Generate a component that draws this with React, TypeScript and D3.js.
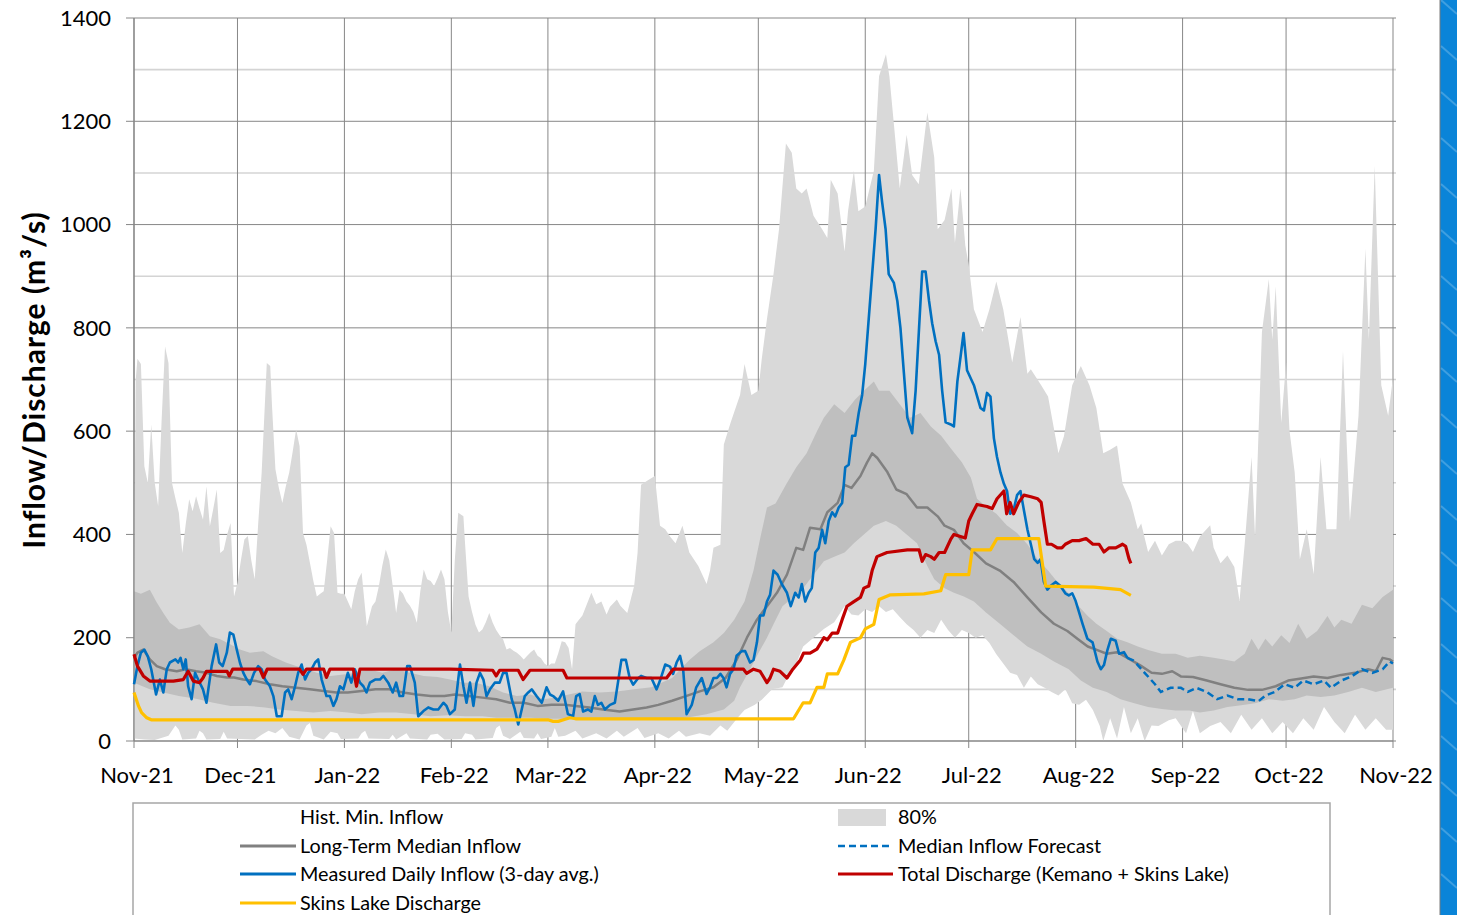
import React from 'react';
import * as d3 from 'd3';

type P = [number, number];

// day offsets from 2021-11-01, values in m3/s
const monthLabels = ['Nov-21', 'Dec-21', 'Jan-22', 'Feb-22', 'Mar-22', 'Apr-22', 'May-22', 'Jun-22', 'Jul-22', 'Aug-22', 'Sep-22', 'Oct-22', 'Nov-22'];
const yTicks = [0, 200, 400, 600, 800, 1000, 1200, 1400];
const yMinor = [100, 300, 500, 700, 900, 1100, 1300];

const histMax: P[] = [[0,300],[0.5,700],[1,740],[2,730],[3,532],[4,500],[5,613],[6,500],[7,455],[8,620],[9,764],[10,732],[11,500],[12,470],[13,442],[14,364],[15,420],[16,468],[17,445],[18,474],[19,450],[20,429],[21,493],[22,416],[23,450],[24,487],[25,364],[26,370],[27,400],[28,422],[29,280],[30,306],[31,350],[32,390],[33,397],[34,350],[35,313],[36,420],[37,519],[38.5,732],[39.5,726],[40,650],[41,526],[42,490],[43,461],[44,493],[45,520],[46,560],[47,603],[48,571],[49,403],[50,380],[51,345],[52,310],[53,280],[54,285],[55,290],[56,350],[57,416],[58,403],[59,287],[60,285],[61,285],[62,270],[63,255],[64,290],[65,313],[66,326],[67.5,222],[69,261],[70,270],[71,300],[72,340],[73,371],[74,350],[75,300],[76,248],[77,293],[78,285],[79,270],[80,262],[81,250],[82,229],[83,290],[84,332],[85,313],[86,310],[87,300],[88,315],[89,332],[90,313],[91,250],[92,210],[93,350],[94,442],[95.5,435],[96,380],[97,280],[98,250],[99,225],[100,210],[101,216],[102,230],[103,248],[104,229],[105,215],[106,205],[107,197],[108,177],[109,180],[110,175],[111,171],[112,165],[113,158],[114,165],[115,172],[116,177],[117,165],[118,160],[119,150],[120,145],[121,150],[122,150],[123,170],[124,193],[125,191],[126,180],[127,139],[128,226],[129,235],[130,243],[131,260],[132.6,287],[134,265],[135.5,270],[137,245],[138,260],[140,274],[141,262],[143,248],[145,300],[146,365],[147,496],[149,505],[151,513],[152.5,417],[154,410],[155.5,395],[157,383],[159,417],[161,365],[163.6,339],[166,304],[167,330],[168,374],[170,380],[171,574],[173,617],[175.7,670],[177,730],[179,670],[181,678],[182,740],[183.5,817],[185.4,904],[187,991],[189,1157],[190.7,1139],[192,1070],[193.6,1060],[195,1070],[197,1017],[199.5,991],[201,974],[202,1087],[204,1060],[206,948],[207,1026],[208.7,1104],[210,1026],[212,1035],[214.5,1104],[216,1287],[218,1330],[219,1287],[220.5,1180],[222,1070],[224,1174],[225.6,1096],[227.5,1078],[230,1217],[232,1130],[233,991],[235,1009],[237,1070],[238,965],[239.6,1070],[241,960],[242,922],[243.5,836],[246,792],[248,836],[250,890],[252,836],[254.6,733],[257,821],[259,711],[260,720],[263,689],[265,667],[268,557],[269.6,590],[272,689],[274.5,726],[277,689],[279,645],[281,557],[283,564],[285,572],[286.6,498],[289,462],[291,410],[292,421],[294,366],[296,388],[298,359],[300,381],[302,388],[304,388],[305.5,381],[307,366],[309,396],[312,418],[313,374],[315,344],[317,359],[319,337],[320.5,271],[322,381],[324,550],[325,396],[327,792],[329,894],[330,777],[331,880],[332.6,616],[334,733],[335,601],[336.5,520],[338,352],[340,410],[342,323],[344,550],[345.7,410],[348.6,410],[350.5,755],[352.5,425],[355,630],[357,953],[358,777],[359.7,1114],[361.6,689],[363.6,630],[365,704]];

const histMin: P[] = [[0,5],[3,3],[6,2],[10,10],[12,30],[13,22],[14,3],[18,5],[19,20],[20,15],[21,3],[25,4],[26,18],[27,5],[35,3],[37,12],[39,20],[41,15],[43,25],[45,8],[48,3],[50,30],[51,35],[52,10],[55,3],[57,18],[59,15],[60,4],[65,5],[66,15],[67,20],[68,5],[74,4],[75,12],[76,3],[79,15],[80,5],[85,3],[86,12],[88,14],[90,3],[95,4],[96,15],[98,12],[99,3],[104,6],[105,25],[106,30],[107,10],[109,4],[112,18],[113,6],[116,5],[117,15],[118,4],[121,8],[122,25],[123,8],[125,10],[128,20],[130,5],[134,15],[137,5],[140,20],[142,8],[146,25],[148,6],[152,15],[155,5],[158,20],[160,8],[164,15],[167,10],[170,30],[172,20],[175,45],[177,60],[180,70],[182,80],[185,100],[188,104],[190,130],[192,150],[194,183],[197,200],[200,217],[203,230],[206,261],[208,245],[210,243],[212,255],[214,250],[216,261],[218,250],[220,255],[222,240],[224,226],[226,215],[228,200],[230,215],[232,209],[234,235],[236,215],[238,200],[240,215],[242,209],[244,200],[246,205],[248,190],[250,168],[252,150],[254,132],[256,128],[258,103],[260,125],[262,110],[264,103],[266,95],[268,88],[270,100],[272,73],[274,70],[276,80],[278,60],[280,29],[281,0],[283,44],[285,5],[287,66],[289,15],[291,44],[293,0],[295,30],[297,29],[300,40],[302,44],[305,15],[307,58],[309,15],[312,29],[315,37],[318,15],[321,51],[324,22],[327,44],[330,15],[333,37],[336,15],[339,44],[342,22],[345,66],[348,37],[351,15],[354,51],[357,22],[360,44],[363,22],[365,22]];

const p90: P[] = [[0,290],[2,285],[4.6,293],[6.6,268],[8.5,248],[10.4,229],[13,216],[16,220],[19,226],[22,203],[25,197],[28,187],[30.7,177],[33.6,171],[37.5,174],[40,164],[44,152],[47,145],[50,139],[53,132],[57,126],[60.7,129],[64.5,132],[68,139],[72,132],[76,139],[80,132],[84,126],[88,124],[91.6,119],[95.5,113],[99,113],[103,106],[107,94],[111,87],[115,90],[118.6,81],[122.5,84],[126,90],[130,96],[135,94],[140,96],[145,100],[150,104],[156,122],[161,157],[164,174],[168,191],[171,209],[174,235],[177,270],[179.6,330],[181.5,391],[183.5,452],[186,460],[189,496],[192,530],[195,557],[198,600],[200,626],[203,652],[206,635],[209,661],[211.6,678],[214.5,696],[216,678],[219,678],[222,652],[225,626],[228,635],[231,609],[234,591],[237,565],[240,540],[242.6,510],[244.4,469],[247,454],[250,440],[253,418],[256,403],[259,381],[262,352],[265,330],[267.7,308],[271,286],[273.5,264],[276.5,242],[279,227],[282,213],[285,198],[288,191],[291,183],[294,176],[298,169],[302,169],[305.5,161],[309,165],[313,161],[316,158],[319,154],[322,169],[324,198],[326,176],[328,198],[330,183],[332.6,205],[335,190],[337.5,227],[340,198],[343,213],[346,242],[348,220],[350,235],[353,227],[356,264],[359,257],[362,279],[365,293]];

const p10: P[] = [[0,113],[4.6,100],[8.5,94],[13,87],[18,82],[23,74],[28,68],[33,68],[38,65],[42,61],[47,58],[52,55],[57,58],[62,55],[66,52],[71,55],[76,55],[81,52],[86,48],[91,50],[96,48],[101,48],[105,45],[110,45],[115,45],[120,43],[130,43],[140,42],[150,43],[160,45],[166,52],[171,61],[174,78],[175.7,104],[178.6,139],[180.6,165],[183.5,200],[185.4,226],[188,261],[191,278],[194,296],[197,322],[200,348],[203,357],[206,365],[208.7,383],[211.6,400],[214.5,417],[218,426],[221,417],[224,400],[227,383],[230,339],[232,313],[235,296],[237.7,287],[240.6,280],[243.5,270],[247,249],[251,227],[255,205],[259,183],[263,169],[266.7,154],[271,139],[274.5,117],[278,103],[282,95],[286,81],[290,73],[294,66],[298,62],[302,59],[306,59],[309,55],[313,59],[317,66],[321,69],[325,73],[329,81],[333,78],[336.5,81],[340,88],[344,85],[348,88],[352,95],[356,103],[360,95],[365,103]];

const median: P[] = [[0,160],[1,171],[2.7,177],[4.6,158],[6.6,145],[9,139],[12.4,135],[15,139],[18,135],[21,132],[24,126],[27,123],[29,123],[31.7,119],[35.5,116],[39.4,110],[43,106],[47,103],[51,100],[55,97],[58.7,94],[62,94],[66,97],[70,100],[74,100],[78,94],[82,90],[86,87],[90,87],[93,90],[97,87],[101,84],[105,81],[109,74],[113,74],[117,68],[121,70],[125,70],[128,68],[132,65],[136,61],[140.8,57],[144.7,61],[148.6,65],[152,70],[156,78],[160,87],[164,96],[168,104],[171.5,122],[174.7,157],[177.7,200],[180.6,235],[183.5,261],[186.4,287],[189.3,322],[192,374],[194,370],[196,413],[199,410],[201,443],[204,461],[206,496],[208,490],[210.6,513],[212.5,539],[214,557],[215.5,548],[218.3,522],[221,487],[224,478],[227,452],[230,452],[233,435],[235,417],[237.7,409],[240.5,383],[243.5,366],[247,344],[251,330],[255,308],[259,278],[263,249],[266.7,227],[270.6,213],[273.5,198],[276.5,183],[279.3,176],[282,169],[285,172],[288,161],[291.6,147],[295,132],[298,130],[301,135],[303.5,125],[307,124],[311,117],[315,110],[319,103],[323,99],[327,99],[331,106],[334.6,117],[338.4,121],[342,125],[346,122],[350,128],[354,132],[357.8,139],[360,135],[362,161],[364,158],[365,154]];

const forecast: P[] = [[288,161],[290,155],[291,147],[293,132],[296,110],[297.7,95],[300.5,103],[303.5,103],[305.5,95],[308,103],[311,95],[314,81],[317,88],[320,81],[323,81],[326,77],[328,88],[330.7,95],[333.6,110],[336.5,103],[339,117],[342,110],[345,117],[347,103],[350,117],[353,125],[356,139],[359,132],[362,139],[364,154],[365,150]];

const measured: P[] = [[0,110],[1,145],[2,171],[3,177],[4,164],[5,139],[6.4,90],[7.5,119],[8.5,94],[9.5,139],[10.4,152],[12,158],[12.8,152],[13.5,161],[14.3,139],[15,158],[15.7,106],[16.7,81],[17.7,132],[18.6,119],[20,100],[21,74],[22.5,145],[23.8,187],[24.7,152],[25.7,145],[26.9,171],[27.8,210],[28.8,206],[29.8,177],[30.7,152],[31.7,132],[32.7,119],[33.6,110],[34.8,132],[36,145],[37,139],[38,119],[39.4,106],[40.4,87],[41.4,48],[42.8,48],[43.8,94],[44.7,100],[45.7,81],[46.7,106],[47.6,132],[48.6,148],[49.6,119],[50.5,132],[51.5,139],[52.5,152],[53.4,158],[54.4,119],[55.8,87],[56.8,87],[57.8,68],[58.7,81],[59.7,106],[60.7,100],[62,132],[63,113],[64,139],[65.5,113],[66.5,106],[67.4,94],[68.4,113],[69.9,119],[71.3,119],[72.3,126],[73.7,113],[75,94],[76,113],[77,87],[78,87],[79.2,145],[80,145],[81.4,113],[82.4,48],[83.9,58],[85.3,65],[86.8,61],[88.2,61],[89.7,74],[90.6,68],[91.6,52],[93,61],[94.5,148],[95.5,106],[96.4,74],[97.4,113],[98.4,68],[99.3,113],[100.3,132],[101.3,119],[102.2,87],[103.2,100],[104.6,113],[106,113],[107,132],[108,132],[109.5,81],[110.4,61],[111.4,32],[112.4,61],[113.3,87],[114.3,94],[115.3,100],[116.7,87],[118.2,74],[119.6,104],[120.6,90],[121.5,87],[123,78],[124.4,96],[125.8,52],[127.3,48],[128.2,87],[129.2,91],[130.2,57],[131.6,61],[132.6,57],[133.6,87],[134.5,70],[135.5,74],[136.5,61],[138,70],[139.4,74],[140.3,113],[141.3,157],[142.6,157],[143.7,122],[144.7,109],[146.2,122],[147,126],[148.6,122],[150,122],[151.5,100],[152.5,117],[154,148],[155.4,144],[156.3,130],[157.3,152],[158.3,165],[159.2,139],[160.2,52],[161.7,70],[163,104],[164.6,122],[166,91],[167,104],[168,122],[169,122],[170,130],[170.9,122],[171.8,104],[172.8,130],[173.8,139],[174.7,165],[176.2,174],[177.2,174],[178.6,152],[179.6,157],[180.6,191],[181.5,243],[182.5,243],[183.5,270],[184.4,283],[185.4,330],[186.6,322],[187.8,304],[189.3,287],[190.4,261],[191.7,287],[192.7,278],[193.6,304],[194.6,270],[195.6,287],[196.5,296],[197.5,365],[198.5,374],[199.5,409],[200.4,383],[201.4,426],[202.4,443],[203.3,435],[204.3,452],[205.3,461],[206.2,530],[207.2,535],[208.2,591],[209.1,591],[210.1,635],[211.1,670],[212,730],[213,817],[214,904],[215,991],[216,1096],[216.9,1043],[217.9,991],[218.8,904],[220.3,887],[221.3,852],[222.2,800],[223.2,713],[224.2,626],[225.6,596],[226.6,678],[227.6,800],[228.5,909],[229.5,909],[230.5,852],[231.4,809],[232.4,774],[233.4,748],[234.3,678],[235.3,617],[236.8,613],[237.7,609],[238.7,696],[239.7,748],[240.5,790],[241.5,718],[243.5,689],[245.4,645],[246.4,640],[247.3,674],[248.3,667],[249.3,586],[250.2,550],[251.2,520],[252.2,498],[253.1,484],[254,440],[255,447],[256,476],[257,484],[258,447],[259,410],[260,381],[261,352],[262,345],[262.8,352],[263.8,308],[264.8,293],[265.7,300],[267.2,308],[268.6,300],[270,286],[271,282],[272,286],[273,271],[274,249],[275,227],[276.4,198],[277.9,191],[279.3,154],[280.3,139],[281.2,147],[282.2,176],[283.2,198],[284.6,194],[285.6,169],[287,172],[288,161]];

const totalDischarge: P[] = [[0,168],[1,145],[2.7,126],[4.6,116],[8.5,116],[11.4,116],[14.3,119],[15.7,135],[17.2,116],[19,113],[20,122],[21,135],[27,135],[27.6,126],[28.6,139],[36.5,139],[37.5,123],[38.6,139],[48,139],[49,129],[50,139],[55,139],[55.8,123],[56.8,139],[63.6,139],[64.5,106],[65.5,139],[91.6,139],[104,137],[105,126],[106,137],[111.4,137],[112.8,119],[114.8,137],[124.4,137],[125.5,122],[154.4,122],[156.3,139],[176.7,139],[177.6,131],[179.6,139],[181.5,135],[183.5,113],[184.4,122],[185.4,139],[187.3,135],[189.3,122],[191,139],[193.2,157],[194.1,170],[196,170],[198,178],[200,200],[201,196],[202.4,209],[204,209],[205.3,235],[206.7,261],[208.7,270],[210.6,278],[211.6,296],[213,300],[214,330],[215.4,357],[218.3,365],[224.2,370],[227.6,370],[228.5,348],[229.5,361],[231,357],[232,352],[233.4,365],[235,365],[236.8,391],[237.7,400],[239.6,396],[241,393],[242,426],[243,440],[244.4,458],[247.3,454],[248.8,450],[250.2,469],[252.2,484],[253,440],[254,462],[255,440],[256.5,462],[258,476],[260,473],[262,469],[263,462],[263.8,425],[264.8,381],[266,381],[267.7,374],[269,374],[270,381],[272,388],[274,388],[276,392],[278,381],[279.8,381],[281.2,366],[282.7,374],[284.6,374],[286.6,381],[287.5,377],[288.5,352],[289,344]];

const skinsLake: P[] = [[0,94],[1.3,68],[2.2,55],[3.7,45],[5,41],[120,41],[121.5,38],[123,38],[125,42],[126.4,45],[128,43],[191.2,43],[194,74],[196,74],[198,104],[200,104],[201,130],[204,130],[205.8,157],[207.7,191],[210.6,200],[212,217],[214.5,226],[216,274],[219.3,283],[229,285],[233.9,291],[235.3,322],[242,322],[243,370],[248.3,370],[250.2,392],[262.3,392],[264.3,300],[278.3,298],[286,293],[289,282]];

const legendLeft = ['Hist. Min. Inflow', 'Long-Term Median Inflow', 'Measured Daily Inflow (3-day avg.)', 'Skins Lake Discharge'];
const legendRight = ['80%', 'Median Inflow Forecast', 'Total Discharge (Kemano + Skins Lake)'];

const FONT = 'Lato, "Open Sans", sans-serif';

export default function App() {
  const W = 1457, H = 915;
  const start = new Date(2021, 10, 1);
  const end = new Date(2022, 10, 1);
  const x = d3.scaleTime().domain([start, end]).range([134, 1393]);
  const y = d3.scaleLinear().domain([0, 1400]).range([741, 18]);
  const toDate = (d: number) => new Date(start.getTime() + d * 86400000);
  const line = d3.line<P>().x(p => x(toDate(p[0]))).y(p => y(p[1]));
  const band = (top: P[], bottom: P[]) => {
    const a = line(top) as string;
    const b = line(bottom.slice().reverse()) as string;
    return a + 'L' + b.slice(1) + 'Z';
  };
  const months = d3.timeMonth.range(start, d3.timeDay.offset(end, 1));
  const [x0, x1] = x.range();
  const [yb, yt] = y.range();

  const rowY = [817, 846, 874, 903];
  const diag = d3.range(0, 940, 46);

  return (
    <svg width={W} height={H} style={{ position: 'absolute', left: 0, top: 0, background: '#fff' }} fontFamily={FONT}>
      <rect x={0} y={0} width={W} height={H} fill="#fff" />
      {/* minor gridlines */}
      {yMinor.map(v => (
        <line key={'mn' + v} x1={x0} x2={x1 + 3} y1={y(v)} y2={y(v)} stroke="#d4d4d4" strokeWidth={1.6} />
      ))}
      {yTicks.map(v => (
        <line key={'mj' + v} x1={x0 - 8} x2={x1 + 3} y1={y(v)} y2={y(v)} stroke="#878787" strokeWidth={1} />
      ))}
      {months.map((m, i) => (
        <line key={'vm' + i} x1={x(m)} x2={x(m)} y1={yt} y2={yb + 7} stroke="#878787" strokeWidth={1} />
      ))}
      {/* envelopes */}
      <path d={band(histMax, histMin)} fill="#d9d9d9" />
      <path d={band(p90, p10)} fill="#bfbfbf" />
      {/* axes */}
      <line x1={x0} x2={x0} y1={yt} y2={yb} stroke="#868686" strokeWidth={1.2} />
      <line x1={x0} x2={x1} y1={yb} y2={yb} stroke="#868686" strokeWidth={1.2} />
      {/* series */}
      <path d={line(median) as string} fill="none" stroke="#808080" strokeWidth={2.5} strokeLinejoin="round" />
      <path d={line(forecast) as string} fill="none" stroke="#0070c0" strokeWidth={2.5} strokeDasharray="7,4" />
      <path d={line(measured) as string} fill="none" stroke="#0070c0" strokeWidth={2.6} strokeLinejoin="round" />
      <path d={line(totalDischarge) as string} fill="none" stroke="#c00000" strokeWidth={3.2} strokeLinejoin="round" />
      <path d={line(skinsLake) as string} fill="none" stroke="#ffc000" strokeWidth={3.2} strokeLinejoin="round" />
      {/* y tick labels */}
      {yTicks.map(v => (
        <text key={'yl' + v} x={111} y={y(v)} dy="0.35em" textAnchor="end" fontSize={22} fill="#000">{v}</text>
      ))}
      {/* x tick labels */}
      {months.map((m, i) => (
        <text key={'xl' + i} x={x(m) + 3} y={783} textAnchor="middle" fontSize={22} fill="#000">{monthLabels[i]}</text>
      ))}
      {/* y axis title */}
      <text transform={`translate(45,380) rotate(-90)`} textAnchor="middle" fontSize={30} fontWeight="bold" letterSpacing={1} fill="#000">Inflow/Discharge (m³/s)</text>
      {/* legend */}
      <rect x={133} y={803} width={1197} height={130} fill="#fff" stroke="#a6a6a6" strokeWidth={1.5} />
      <line x1={240} x2={296} y1={rowY[1]} y2={rowY[1]} stroke="#808080" strokeWidth={3} />
      <line x1={240} x2={296} y1={rowY[2]} y2={rowY[2]} stroke="#0070c0" strokeWidth={3} />
      <line x1={240} x2={296} y1={rowY[3]} y2={rowY[3]} stroke="#ffc000" strokeWidth={3} />
      <rect x={838} y={809} width={48} height={17} fill="#d9d9d9" />
      <line x1={838} x2={893} y1={rowY[1]} y2={rowY[1]} stroke="#0070c0" strokeWidth={2.5} strokeDasharray="7,4" />
      <line x1={838} x2={893} y1={rowY[2]} y2={rowY[2]} stroke="#c00000" strokeWidth={3} />
      {legendLeft.map((t, i) => (
        <text key={'ll' + i} x={300} y={rowY[i]} dy="0.35em" fontSize={19.8} fill="#000">{t}</text>
      ))}
      {legendRight.map((t, i) => (
        <text key={'lr' + i} x={898} y={rowY[i]} dy="0.35em" fontSize={19.8} fill="#000">{t}</text>
      ))}
      {/* right decorative strip */}
      <rect x={1440} y={0} width={17} height={H} fill="#0a84d8" />
      {diag.map((d, i) => (
        <line key={'dg' + i} x1={1441} x2={1457} y1={d} y2={d + 14} stroke="#ffffff" strokeOpacity={0.22} strokeWidth={2} />
      ))}
      <line x1={1440} x2={1440} y1={0} y2={H} stroke="#7a7a7a" strokeWidth={1} />
    </svg>
  );
}
